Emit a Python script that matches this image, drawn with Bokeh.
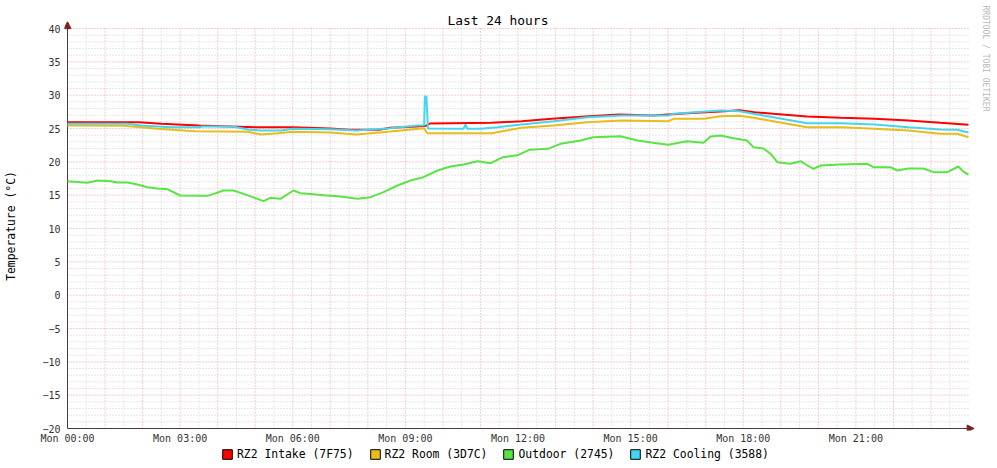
from bokeh.plotting import figure
from bokeh.layouts import column
from bokeh.models import (Range1d, FixedTicker, Title, Legend, LegendItem,
                          Arrow, NormalHead)
from bokeh.embed import file_html
from bokeh.resources import INLINE

# ---------------- data (hours since Mon 00:00, degC) ----------------
t_intake = [0, 1.9, 2.5, 3.5, 5.0, 6.0, 7.0, 7.5, 8.3, 8.6, 9.3, 9.55, 9.65, 11.3, 12.1,
            12.9, 13.9, 14.7, 15.6, 16.5, 17.4, 17.9, 18.3, 18.8, 19.7, 20.6, 21.5,
            22.4, 23.25, 24.0]
v_intake = [25.95, 25.95, 25.7, 25.45, 25.2, 25.2, 25.0, 24.8, 24.8, 25.1, 25.3, 25.4,
            25.75, 25.85, 26.1, 26.45, 26.85, 27.1, 26.95, 27.3, 27.55, 27.75, 27.45,
            27.2, 26.8, 26.6, 26.45, 26.2, 25.85, 25.55]

t_room = [0, 1.5, 2.4, 3.4, 4.8, 5.15, 5.6, 6.0, 7.0, 7.7, 8.6, 9.5, 9.58, 11.3, 11.7,
          12.1, 12.95, 13.85, 14.75, 16.0, 16.15, 16.95, 17.4, 17.9, 18.27, 18.8, 19.7,
          20.6, 21.5, 22.4, 23.25, 23.7, 24.0]
v_room = [25.45, 25.4, 24.95, 24.6, 24.5, 24.1, 24.3, 24.5, 24.4, 24.1, 24.55, 25.05,
          24.3, 24.3, 24.7, 25.1, 25.45, 25.95, 26.2, 26.1, 26.45, 26.45, 26.85, 26.9,
          26.6, 26.1, 25.2, 25.2, 24.95, 24.7, 24.2, 24.2, 23.7]

t_outdoor = [0, 0.53, 0.8, 1.15, 1.33, 1.6, 1.86, 2.13, 2.4, 2.66, 3.0, 3.73, 3.9, 4.15,
             4.42, 4.69, 5.06, 5.22, 5.4, 5.67, 6.02, 6.2, 6.4, 6.82, 7.27, 7.73, 8.07,
             8.42, 8.79, 9.14, 9.48, 9.86, 10.2, 10.55, 10.92, 11.27, 11.6, 11.88, 12.0,
             12.3, 12.8, 13.13, 13.67, 14.0, 14.73, 15.18, 15.6, 16.0, 16.5, 16.94,
             17.13, 17.4, 17.74, 18.1, 18.27, 18.54, 18.73, 18.91, 19.26, 19.53, 19.71,
             19.87, 20.06, 20.6, 21.3, 21.47, 21.92, 22.1, 22.4, 22.8, 23.07, 23.44,
             23.73, 23.87, 24.0]
v_outdoor = [17.1, 16.85, 17.2, 17.1, 16.9, 16.9, 16.6, 16.2, 16.0, 15.9, 14.95, 14.9,
             15.2, 15.7, 15.7, 15.2, 14.45, 14.1, 14.6, 14.45, 15.7, 15.3, 15.2, 15.0,
             14.8, 14.45, 14.7, 15.45, 16.45, 17.2, 17.7, 18.7, 19.3, 19.6, 20.1, 19.8,
             20.7, 20.9, 21.0, 21.8, 21.95, 22.7, 23.2, 23.7, 23.85, 23.2, 22.85, 22.55,
             23.1, 22.85, 23.8, 23.95, 23.55, 23.2, 22.2, 22.0, 21.2, 19.95, 19.7, 20.1,
             19.45, 18.95, 19.45, 19.6, 19.7, 19.2, 19.2, 18.7, 19.0, 19.0, 18.45, 18.45,
             19.3, 18.5, 18.1]

t_cooling = [0, 1.6, 1.95, 2.75, 3.5, 3.6, 4.4, 4.8, 5.15, 5.7, 6.0, 7.0, 7.7, 8.6, 9.3,
             9.5, 9.52, 9.56, 9.6, 10.55, 10.6, 10.65, 11.0, 11.45, 12.1, 12.95, 13.85,
             14.75, 16.0, 16.15, 17.4, 17.9, 18.27, 18.8, 19.7, 20.6, 21.5, 22.4, 23.25,
             23.7, 24.0]
v_cooling = [25.7, 25.7, 25.45, 25.2, 25.2, 25.3, 25.3, 24.85, 24.7, 24.7, 24.95, 24.9,
             24.7, 25.05, 25.45, 25.5, 29.8, 29.8, 25.0, 24.95, 25.6, 24.95, 24.95, 25.2,
             25.6, 26.1, 26.7, 26.95, 26.95, 27.2, 27.7, 27.6, 27.2, 26.7, 25.8, 25.8,
             25.6, 25.2, 24.85, 24.8, 24.4]

series_labels = ["RZ2 Intake (7F75)", "RZ2 Room (3D7C)", "Outdoor (2745)", "RZ2 Cooling (3588)"]
series_colors = ["#FF0000", "#E8BC1C", "#58E444", "#44D6EC"]

x_ticks = [0, 3, 6, 9, 12, 15, 18, 21]
x_tick_labels = ["Mon 00:00", "Mon 03:00", "Mon 06:00", "Mon 09:00",
                 "Mon 12:00", "Mon 15:00", "Mon 18:00", "Mon 21:00"]
y_ticks = [-20, -15, -10, -5, 0, 5, 10, 15, 20, 25, 30, 35, 40]
X_MIN, X_MAX = 0, 24
Y_MIN, Y_MAX = -20, 40

FONT = "DejaVu Sans Mono"
AXIS_COLOR = "#4a3c3c"
ARROW_COLOR = "#7F1F1F"
GRID_MINOR = "#cfcfcf"
GRID_MAJOR = "#F2A0A0"

p = figure(width=997, height=447, output_backend="svg", toolbar_location=None,
           x_range=Range1d(-0.08, 24.16), y_range=Range1d(-20.3, 41.05),
           min_border_left=64, min_border_right=23, min_border_top=21, min_border_bottom=17)
p.background_fill_color = "white"
p.border_fill_color = "white"
p.outline_line_color = None
p.xgrid.visible = False
p.ygrid.visible = False

# grid lines (dotted): minor every 30 min / 1 degC, major every hour / 5 degC
half_hours = [h + 0.5 for h in range(X_MIN, X_MAX)]
hours = list(range(X_MIN + 1, X_MAX))
minor_y = [v for v in range(Y_MIN + 1, Y_MAX) if v % 5 != 0]
major_y = [v for v in range(Y_MIN + 5, Y_MAX + 1, 5)]
p.segment(x0=half_hours, x1=half_hours, y0=[Y_MIN] * len(half_hours), y1=[Y_MAX] * len(half_hours),
          line_color=GRID_MINOR, line_dash="1 2", line_width=1)
p.segment(x0=[X_MIN] * len(minor_y), x1=[X_MAX] * len(minor_y), y0=minor_y, y1=minor_y,
          line_color=GRID_MINOR, line_dash="1 2", line_width=1)
p.segment(x0=hours, x1=hours, y0=[Y_MIN] * len(hours), y1=[Y_MAX] * len(hours),
          line_color=GRID_MAJOR, line_dash="1 2", line_width=1)
p.segment(x0=[X_MIN] * len(major_y), x1=[X_MAX] * len(major_y), y0=major_y, y1=major_y,
          line_color=GRID_MAJOR, line_dash="1 2", line_width=1)

# axes: labels from Bokeh axes, axis lines drawn at the data origin
xa = p.xaxis[0]
xa.ticker = FixedTicker(ticks=x_ticks)
xa.major_label_overrides = {t: l for t, l in zip(x_ticks, x_tick_labels)}
ya = p.yaxis[0]
ya.ticker = FixedTicker(ticks=y_ticks)
ya.axis_label = "Temperature (°C)"
ya.axis_label_text_font = FONT
ya.axis_label_text_font_size = "11.4px"
ya.axis_label_text_font_style = "normal"
ya.axis_label_text_color = "#000000"
ya.axis_label_standoff = 21
for ax in (xa, ya):
    ax.axis_line_color = None
    ax.major_tick_line_color = None
    ax.minor_tick_line_color = None
    ax.major_tick_out = 0
    ax.major_tick_in = 0
    ax.major_label_text_font = FONT
    ax.major_label_text_font_size = "10px"
    ax.major_label_text_color = "#333333"
xa.major_label_standoff = 2
ya.major_label_standoff = 4

p.segment(x0=[X_MIN], y0=[Y_MIN], x1=[X_MAX], y1=[Y_MIN], line_color=AXIS_COLOR, line_width=1)
p.segment(x0=[X_MIN], y0=[Y_MIN], x1=[X_MIN], y1=[Y_MAX], line_color=AXIS_COLOR, line_width=1)

# data lines
all_t = [t_intake, t_room, t_outdoor, t_cooling]
all_v = [v_intake, v_room, v_outdoor, v_cooling]
for t, v, c in zip(all_t, all_v, series_colors):
    p.line(t, v, line_color=c, line_width=2)

# arrow heads at axis ends
p.add_layout(Arrow(end=NormalHead(size=7, fill_color=ARROW_COLOR, line_color=ARROW_COLOR),
                   x_start=X_MAX, y_start=Y_MIN, x_end=24.15, y_end=Y_MIN,
                   line_color=AXIS_COLOR, line_width=1))
p.add_layout(Arrow(end=NormalHead(size=7, fill_color=ARROW_COLOR, line_color=ARROW_COLOR),
                   x_start=X_MIN, y_start=Y_MAX, x_end=X_MIN, y_end=41.02,
                   line_color=AXIS_COLOR, line_width=1))

# title
title = Title(text="Last 24 hours", align="left", offset=383, text_font=FONT,
              text_font_size="12.9px", text_font_style="normal", text_color="#000000",
              standoff=-12)
p.add_layout(title, "above")

# watermark
wm = Title(text="RRDTOOL / TOBI OETIKER", align="left", offset=-16, text_font=FONT,
           text_font_size="8px", text_font_style="normal", text_color="#b8b8b8", standoff=12)
p.add_layout(wm, "right")

# legend strip (separate small figure below the chart, frames aligned with the chart)
q = figure(width=997, height=21, output_backend="svg", toolbar_location=None,
           x_range=Range1d(0, 1), y_range=Range1d(0, 1),
           min_border_left=0, min_border_right=0, min_border_top=0, min_border_bottom=0)
q.axis.visible = False
q.xgrid.visible = False
q.ygrid.visible = False
q.outline_line_color = None
q.background_fill_color = "white"
q.border_fill_color = "white"
# legend-only swatches, placed outside the strip's visible range
swatches = [q.quad(left=[-3], right=[-2], top=[-2], bottom=[-3],
                   fill_color=c, line_color="black", line_width=1) for c in series_colors]
legend = Legend(items=[LegendItem(label=l, renderers=[r]) for l, r in zip(series_labels, swatches)],
                orientation="horizontal", location=(157, 7),
                glyph_width=12, glyph_height=12, label_standoff=4, spacing=15,
                label_height=12, label_text_font=FONT,
                label_text_font_size="11.4px", label_text_color="#000000",
                border_line_color=None, background_fill_alpha=0, padding=0, margin=0)
q.add_layout(legend, "center")

layout = column(p, q, spacing=0)
open("out.html", "w").write(file_html(layout, INLINE))
